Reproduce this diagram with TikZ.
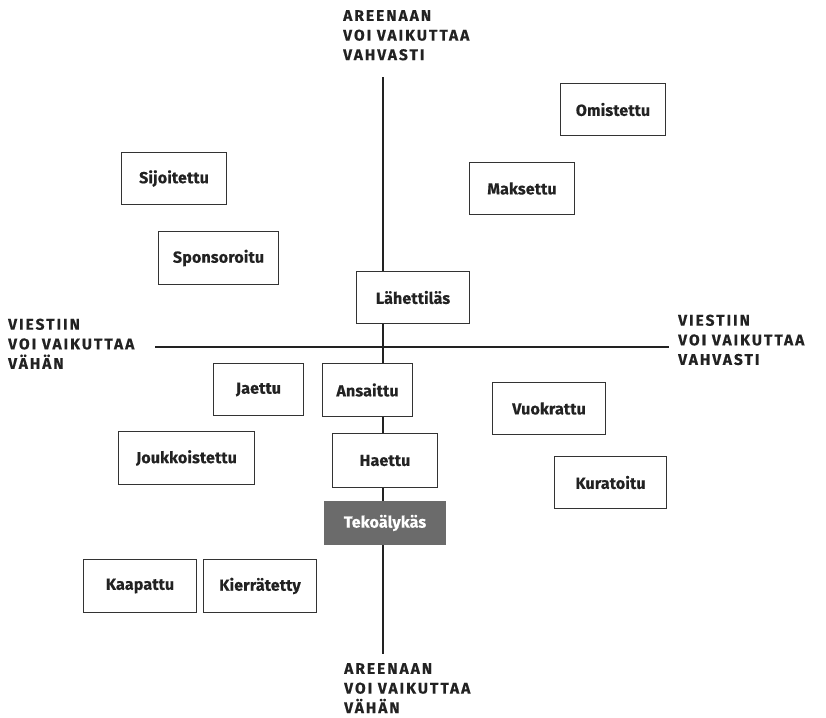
\documentclass[tikz,border=0pt]{standalone}
\usepackage{fontspec}
\setmainfont{Fira Sans}
\newfontfamily\lblfont{Fira Sans Bold}[LetterSpace=13, FakeBold=0.4]
\newfontfamily\boxfont{Fira Sans Bold}[LetterSpace=1, FakeBold=0.4]
\definecolor{linec}{HTML}{222222}
\definecolor{boxc}{HTML}{333333}
\definecolor{textc}{HTML}{222222}
\definecolor{aic}{HTML}{6B6B6B}
\begin{document}
\begin{tikzpicture}[x=1pt,y=-1pt,
  box/.style={draw=boxc, line width=1pt, fill=white, text=textc, anchor=north west,
    inner sep=0pt, font=\boxfont\fontsize{16}{18}\selectfont},
  aibox/.style={box, draw=aic, fill=aic, text=white},
  axislbl/.style={anchor=north west, inner sep=0pt, align=left, text=textc,
    font=\lblfont\fontsize{15.5}{19.6}\selectfont},
  axis/.style={draw=linec, line width=1.2pt}]
\useasboundingbox (0,0) rectangle (826,717);
% axes
\coordinate (vtop) at (383,77);
\coordinate (vbot) at (383,654);
\coordinate (hleft) at (155,347);
\coordinate (hright) at (669,347);
\draw[axis] (vtop) -- (vbot);
\draw[axis] (hleft) -- (hright);
% boxes
\node[box, minimum width=105pt, minimum height=52pt] (omi) at (560,83) {Omistettu};
\node[box, minimum width=105pt, minimum height=52pt] (mak) at (469,162) {Maksettu};
\node[box, minimum width=105pt, minimum height=52pt] (sij) at (121,152) {Sijoitettu};
\node[box, minimum width=120pt, minimum height=53pt] (spo) at (158,231) {Sponsoroitu};
\node[box, minimum width=113pt, minimum height=52pt] (lah) at (356,271) {Lähettiläs};
\node[box, minimum width=90pt, minimum height=52pt] (jae) at (213,363) {Jaettu};
\node[box, minimum width=90pt, minimum height=53pt] (ans) at (322,363) {Ansaittu};
\node[box, minimum width=113pt, minimum height=52pt] (vuo) at (492,382) {Vuokrattu};
\node[box, minimum width=136pt, minimum height=53pt] (jou) at (118,431) {Joukkoistettu};
\node[box, minimum width=105pt, minimum height=54pt] (hae) at (332,433) {Haettu};
\node[box, minimum width=112pt, minimum height=52pt] (kur) at (554,456) {Kuratoitu};
\node[aibox, minimum width=121pt, minimum height=43pt] (tek) at (324,501) {Tekoälykäs};
\node[box, minimum width=113pt, minimum height=53pt] (kaa) at (83,559) {Kaapattu};
\node[box, minimum width=113pt, minimum height=53pt] (kie) at (203,559) {Kierrätetty};
% axis labels
\node[axislbl] (ltop) at (343,10) {AREENAAN\\VOI VAIKUTTAA\\VAHVASTI};
\node[axislbl] (lbot) at (344,663) {AREENAAN\\VOI VAIKUTTAA\\VÄHÄN};
\node[axislbl] (lleft) at (8,318.5) {VIESTIIN\\VOI VAIKUTTAA\\VÄHÄN};
\node[axislbl] (lright) at (678,314.5) {VIESTIIN\\VOI VAIKUTTAA\\VAHVASTI};
\end{tikzpicture}
\end{document}
